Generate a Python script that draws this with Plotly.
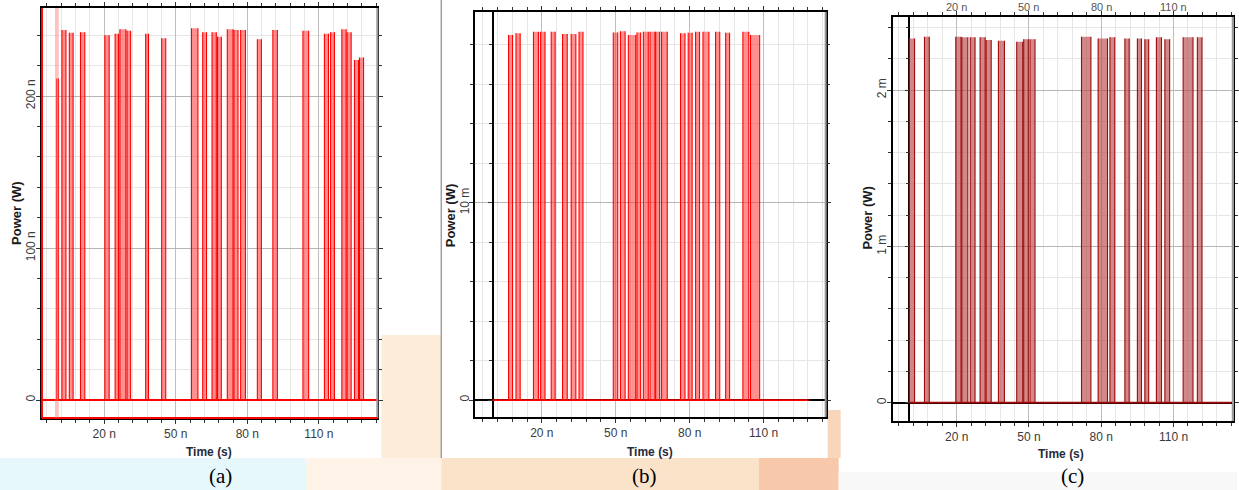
import plotly.graph_objects as go

W, H = 1239, 490

# ---------------- data (time in ns, power in nW / mW) ----------------
# Panel (a): power in nW
a_window = [-6.1, 134.5]
a_rise = [0.1, 2.3, 5.4, 10.1, 20.3, 24.6, 26.6, 29.6, 37.4, 44.1, 56.6, 61.3, 65.2,
          67.5, 71.6, 74.4, 77.2, 84.2, 90.7, 103.3, 112.3, 114.9, 119.6, 121.8, 124.9, 127.0]
a_fall = [0.9, 4.0, 7.0, 11.9, 22.1, 26.0, 29.1, 31.1, 38.6, 45.8, 59.3, 62.9, 67.0,
          69.1, 74.0, 76.1, 79.2, 85.9, 92.6, 105.7, 114.0, 116.5, 121.4, 123.5, 126.6, 128.7]
a_peak = [211.6, 243.4, 241.7, 242.0, 240.0, 241.0, 243.9, 243.0, 241.0, 238.0, 244.5, 242.0, 242.0,
          239.0, 243.9, 243.4, 243.4, 237.3, 243.4, 243.0, 241.0, 242.0, 244.0, 242.0, 223.7, 225.4]
a_marker_band = [-0.6, 1.0]
a_yticks = [0, 100, 200]
a_ylabels = ["0", "100 n", "200 n"]

# Panel (b): power in mW
b_window = [0.0, 128.3]
b_rise = [6.5, 9.5, 16.6, 19.4, 23.8, 28.4, 31.9, 35.1, 49.0, 51.9, 55.1, 58.6,
          61.2, 63.9, 66.2, 68.6, 76.3, 79.4, 82.4, 85.4, 90.5, 94.6, 101.6, 104.7]
b_fall = [8.1, 11.2, 18.6, 21.3, 25.4, 30.3, 33.8, 36.7, 50.8, 53.8, 58.1, 60.1,
          63.2, 65.9, 67.8, 70.9, 78.1, 81.0, 84.0, 87.8, 92.2, 96.2, 104.0, 108.4]
b_peak = [18.50, 18.59, 18.67, 18.67, 18.67, 18.55, 18.55, 18.67, 18.63, 18.70, 18.50, 18.63,
          18.67, 18.67, 18.67, 18.67, 18.59, 18.62, 18.67, 18.67, 18.67, 18.62, 18.67, 18.50]
b_yticks = [0, 10]
b_ylabels = ["0", "10 m"]

# Panel (c): power in mW
c_window = [0.0, 134.0]
c_rise = [0.3, 6.6, 19.6, 22.1, 25.6, 29.7, 32.2, 37.3, 44.9, 47.8, 50.4,
          71.8, 78.7, 83.6, 89.8, 95.0, 98.1, 102.9, 106.4, 114.0, 119.9]
c_fall = [2.5, 8.6, 21.8, 24.6, 27.6, 31.8, 34.3, 39.8, 47.4, 49.7, 52.5,
          75.7, 82.6, 85.6, 91.6, 96.7, 99.7, 105.0, 108.4, 118.1, 121.8]
c_peak = [2.331, 2.342, 2.342, 2.338, 2.338, 2.338, 2.321, 2.316, 2.310, 2.325, 2.325,
          2.342, 2.331, 2.338, 2.331, 2.331, 2.325, 2.338, 2.325, 2.338, 2.338]
c_yticks = [0, 1, 2]
c_ylabels = ["0", "1 m", "2 m"]

x_ticks = [20, 50, 80, 110]
x_labels = ["20 n", "50 n", "80 n", "110 n"]
captions = ["(a)", "(b)", "(c)"]


def fill_steps(rise, fall, peak):
    xs, ys = [], []
    for r, f, p in zip(rise, fall, peak):
        xs += [r, r, f, f, None]
        ys += [0, p, p, 0, None]
    return xs, ys


def edge_lines(rise, fall, peak):
    xs, ys = [], []
    for r, f, p in zip(rise, fall, peak):
        xs += [r, r, None, f, f, None]
        ys += [0, p, None, p, 0, None]
    return xs, ys


def fx(px):
    return px / W


def fy(py):
    return 1 - py / H


panels = [
    dict(s="", data=(a_window, a_rise, a_fall, a_peak), xd=(42, 378), yd=(8, 418),
         xr=(-6.07, 134.5), yr=(-11.8, 257.9), yt=a_yticks, yl=a_ylabels, ydt=20,
         line="rgb(255,0,0)", fill="rgba(255,55,55,0.55)", xzero=False, zcol="rgb(255,0,0)",
         ytitle=(16, 213), xtitle=(209, 452), cap=(221, 476)),
    dict(s="2", data=(b_window, b_rise, b_fall, b_peak), xd=(476, 827), yd=(12, 417),
         xr=(-7.04, 135.2), yr=(-0.86, 19.67), yt=b_yticks, yl=b_ylabels, ydt=2,
         line="rgb(255,0,0)", fill="rgba(255,55,55,0.55)", xzero=True, zcol="black",
         ytitle=(452, 215), xtitle=(651, 452), cap=(646, 476)),
    dict(s="3", data=(c_window, c_rise, c_fall, c_peak), xd=(894, 1235), yd=(17, 421),
         xr=(-6.65, 134.7), yr=(-0.117, 2.468), yt=c_yticks, yl=c_ylabels, ydt=0.2,
         line="rgb(160,10,10)", fill="rgba(185,75,75,0.66)", xzero=True, zcol="black",
         ytitle=(868, 218), xtitle=(1063, 454), cap=(1074, 476)),
]

fig = go.Figure()
layout = dict(
    width=W, height=H, margin=dict(l=0, r=0, t=0, b=0),
    paper_bgcolor="white", plot_bgcolor="white", showlegend=False,
    font=dict(family="Liberation Sans, Arial, sans-serif", size=12, color="#333"),
)
shapes = []
annotations = []

# faint watermark background of the source page
bg_rects = [
    (0, 458, 307, 490, "#e6f8fb"),
    (307, 458, 442, 490, "#fff2e6"),
    (382, 335, 442, 458, "#fdecda"),
    (442, 458, 760, 490, "#fbe3ca"),
    (760, 458, 840, 490, "#f7c8aa"),
    (829, 410, 842, 458, "#f8d6bb"),
    (840, 472, 1239, 490, "#f8f8f8"),
]
for x0, y0, x1, y1, col in bg_rects:
    shapes.append(dict(type="rect", xref="paper", yref="paper", x0=fx(x0), x1=fx(x1),
                       y0=fy(y1), y1=fy(y0), fillcolor=col, line=dict(width=0), layer="below"))
# page border line left of panel (b)
shapes.append(dict(type="line", xref="paper", yref="paper", x0=fx(442), x1=fx(442),
                   y0=fy(458), y1=fy(0), line=dict(color="#a0a0a0", width=1.5), layer="below"))

for i, p in enumerate(panels):
    s = p["s"]
    window, rise, fall, peak = p["data"]
    fxs, fys = fill_steps(rise, fall, peak)
    fig.add_trace(go.Scatter(x=fxs, y=fys, mode="lines", fill="toself",
                             fillcolor=p["fill"], line=dict(width=0),
                             xaxis="x" + s, yaxis="y" + s, hoverinfo="skip"))
    exs, eys = edge_lines(rise, fall, peak)
    fig.add_trace(go.Scatter(x=exs, y=eys, mode="lines",
                             line=dict(color=p["line"], width=1.1),
                             xaxis="x" + s, yaxis="y" + s, hoverinfo="skip"))
    fig.add_trace(go.Scatter(x=window, y=[0, 0], mode="lines",
                             line=dict(color=p["line"], width=1.8),
                             xaxis="x" + s, yaxis="y" + s, hoverinfo="skip"))
    layout["xaxis" + s] = dict(
        domain=[fx(p["xd"][0]), fx(p["xd"][1])], range=list(p["xr"]), anchor="y" + s,
        tickmode="array", tickvals=x_ticks, ticktext=x_labels,
        ticks="outside", ticklen=4, tickcolor="#333", tickfont=dict(size=12, color="#3a3a3a"),
        showgrid=True, gridcolor="#bdbdbd", gridwidth=1,
        minor=dict(tick0=20, dtick=6, ticks="outside", ticklen=3, tickcolor="#333",
                   showgrid=True, gridcolor="#e6e6e6"),
        showline=True, linecolor="black", linewidth=1.5, mirror="ticks",
        zeroline=p["xzero"], zerolinecolor="black", zerolinewidth=1.5, fixedrange=True,
    )
    layout["yaxis" + s] = dict(
        domain=[fy(p["yd"][1]), fy(p["yd"][0])], range=list(p["yr"]), anchor="x" + s,
        tickmode="array", tickvals=p["yt"], ticktext=p["yl"], tickangle=-90,
        ticks="outside", ticklen=4, tickcolor="#333", tickfont=dict(size=12, color="#3a3a3a"),
        ticklabelstandoff=-4,
        showgrid=True, gridcolor="#b5b5b5", gridwidth=1,
        minor=dict(tick0=0, dtick=p["ydt"], ticks="outside", ticklen=3, tickcolor="#333",
                   showgrid=True, gridcolor="#e6e6e6"),
        showline=True, linecolor="black", linewidth=1.5, mirror="ticks",
        zeroline=True, zerolinecolor=p["zcol"], zerolinewidth=2, fixedrange=True,
    )
    # right frame edge is grey in the source
    shapes.append(dict(type="line", xref="x%s domain" % s, yref="y%s domain" % s,
                       x0=1, x1=1, y0=0, y1=1, line=dict(color="#9a9a9a", width=2)))
    annotations.append(dict(text="<b>Power (W)</b>", textangle=-90, showarrow=False,
                            xref="paper", yref="paper", x=fx(p["ytitle"][0]), y=fy(p["ytitle"][1]),
                            xanchor="center", yanchor="middle",
                            font=dict(size=13, color="#1a1a1a")))
    annotations.append(dict(text="<b>Time (s)</b>", showarrow=False,
                            xref="paper", yref="paper", x=fx(p["xtitle"][0]), y=fy(p["xtitle"][1]),
                            xanchor="center", yanchor="middle",
                            font=dict(size=12, color="#262a3a")))
    annotations.append(dict(text=captions[i], showarrow=False,
                            xref="paper", yref="paper", x=fx(p["cap"][0]), y=fy(p["cap"][1]),
                            xanchor="center", yanchor="middle",
                            font=dict(size=21, color="black",
                                      family="Liberation Serif, Times New Roman, serif")))

# extra tick-axes along the t=0 lines of (b) and (c)
for s, base, xpix in (("4", "2", 493), ("5", "3", 910.7)):
    p = panels[int(base) - 1]
    layout["yaxis" + s] = dict(
        overlaying="y" + base, anchor="free", position=fx(xpix), range=list(p["yr"]),
        tickmode="array", tickvals=p["yt"], showticklabels=False,
        ticks="outside", ticklen=4, tickcolor="#333", showgrid=False, zeroline=False,
        minor=dict(tick0=0, dtick=p["ydt"], ticks="outside", ticklen=3, tickcolor="#333"),
        showline=False, fixedrange=True,
    )
    fig.add_trace(go.Scatter(x=[None], y=[None], xaxis="x" + base, yaxis="y" + s,
                             mode="lines", hoverinfo="skip"))

# panel (a): red left & bottom frame edges and the pink marker band at t = 0
shapes.append(dict(type="line", xref="x domain", yref="y domain", x0=0, x1=0, y0=0, y1=1,
                   line=dict(color="rgb(255,0,0)", width=2)))
shapes.append(dict(type="line", xref="x domain", yref="y domain", x0=0, x1=1, y0=0, y1=0,
                   line=dict(color="rgb(255,0,0)", width=2)))
shapes.append(dict(type="rect", xref="x", yref="y domain", x0=a_marker_band[0], x1=a_marker_band[1],
                   y0=0, y1=1, fillcolor="rgba(255,120,120,0.45)", line=dict(width=0)))

# panel (c): top axis labels near the top edge of the picture
for t, lab in zip(x_ticks, x_labels):
    annotations.append(dict(text=lab, showarrow=False, xref="x3", yref="paper", x=t,
                            y=fy(7), xanchor="center", yanchor="middle",
                            font=dict(size=11, color="#555")))

layout["shapes"] = shapes
layout["annotations"] = annotations
fig.update_layout(**layout)
fig.write_html("out.html", post_script="document.body.style.margin='0px';",
               config={"displayModeBar": False})
